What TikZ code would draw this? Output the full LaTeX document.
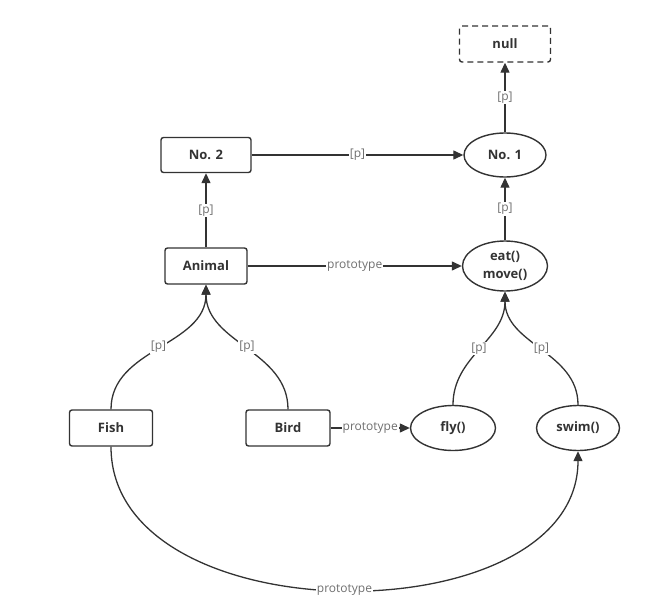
\documentclass[tikz,border=0pt]{standalone}
\usepackage{fontspec}
\setmainfont{Open Sans}
\usetikzlibrary{arrows.meta,shapes.geometric}
\definecolor{ln}{HTML}{333333}
\definecolor{lbl}{HTML}{707070}
\begin{document}
\begin{tikzpicture}[x=1pt,y=-1pt,
  box/.style={draw=ln,line width=1.4pt,rounded corners=2.5pt,minimum width=#1,minimum height=36pt,inner sep=0pt,font=\bfseries\fontsize{13}{14}\selectfont,text=ln},
  oval/.style={draw=ln,line width=1.4pt,ellipse,minimum width=84pt,minimum height=#1,inner sep=0pt,font=\bfseries\fontsize{13}{18}\selectfont,text=ln,align=center},
  conn/.style={draw=ln,line width=1.3pt,-{Triangle[length=10pt,width=9pt]}},
  lab/.style={fill=white,inner sep=1pt,text=lbl,font=\fontsize{12}{13}\selectfont}]
\useasboundingbox (0,0) rectangle (668,612);
\node[box=91pt,dashed,dash pattern=on 6pt off 4pt] (null) at (505,44) {null};
\node[oval=44pt,minimum width=82pt] (n1) at (505,155) {No. 1};
\node[box=90pt,minimum height=35pt] (n2) at (206,155) {No. 2};
\node[box=82pt] (animal) at (206,266) {Animal};
\node[oval=50pt,minimum width=85pt] (eat) at (505,266) {eat()\\move()};
\node[box=83pt] (fish) at (111,428) {Fish};
\node[box=84pt] (bird) at (288,428) {Bird};
\node[oval=45pt,minimum width=85pt] (fly) at (453,428) {fly()};
\node[oval=45pt,minimum width=83pt] (swim) at (578,428) {swim()};

\draw[conn] (n1) -- node[lab]{[p]} (null);
\draw[conn] (eat) -- node[lab]{[p]} (n1);
\draw[conn] (animal) -- node[lab]{[p]} (n2);
\draw[conn] (n2) -- node[lab]{[p]} (n1);
\draw[conn] (animal) -- node[lab]{prototype} (eat);
\draw[conn] (bird) -- node[lab]{prototype} (fly);
\draw[conn] (fish.north) to[out=90,in=-90] node[lab]{[p]} (animal.south);
\draw[conn] (bird.north) to[out=90,in=-90] node[lab]{[p]} (animal.south);
\draw[conn] (fly.north) to[out=90,in=-90] node[lab]{[p]} (eat.south);
\draw[conn] (swim.north) to[out=90,in=-90] node[lab]{[p]} (eat.south);
\draw[conn] (fish.south) .. controls (111,637) and (578,637) .. node[lab]{prototype} (swim.south);
\end{tikzpicture}
\end{document}
